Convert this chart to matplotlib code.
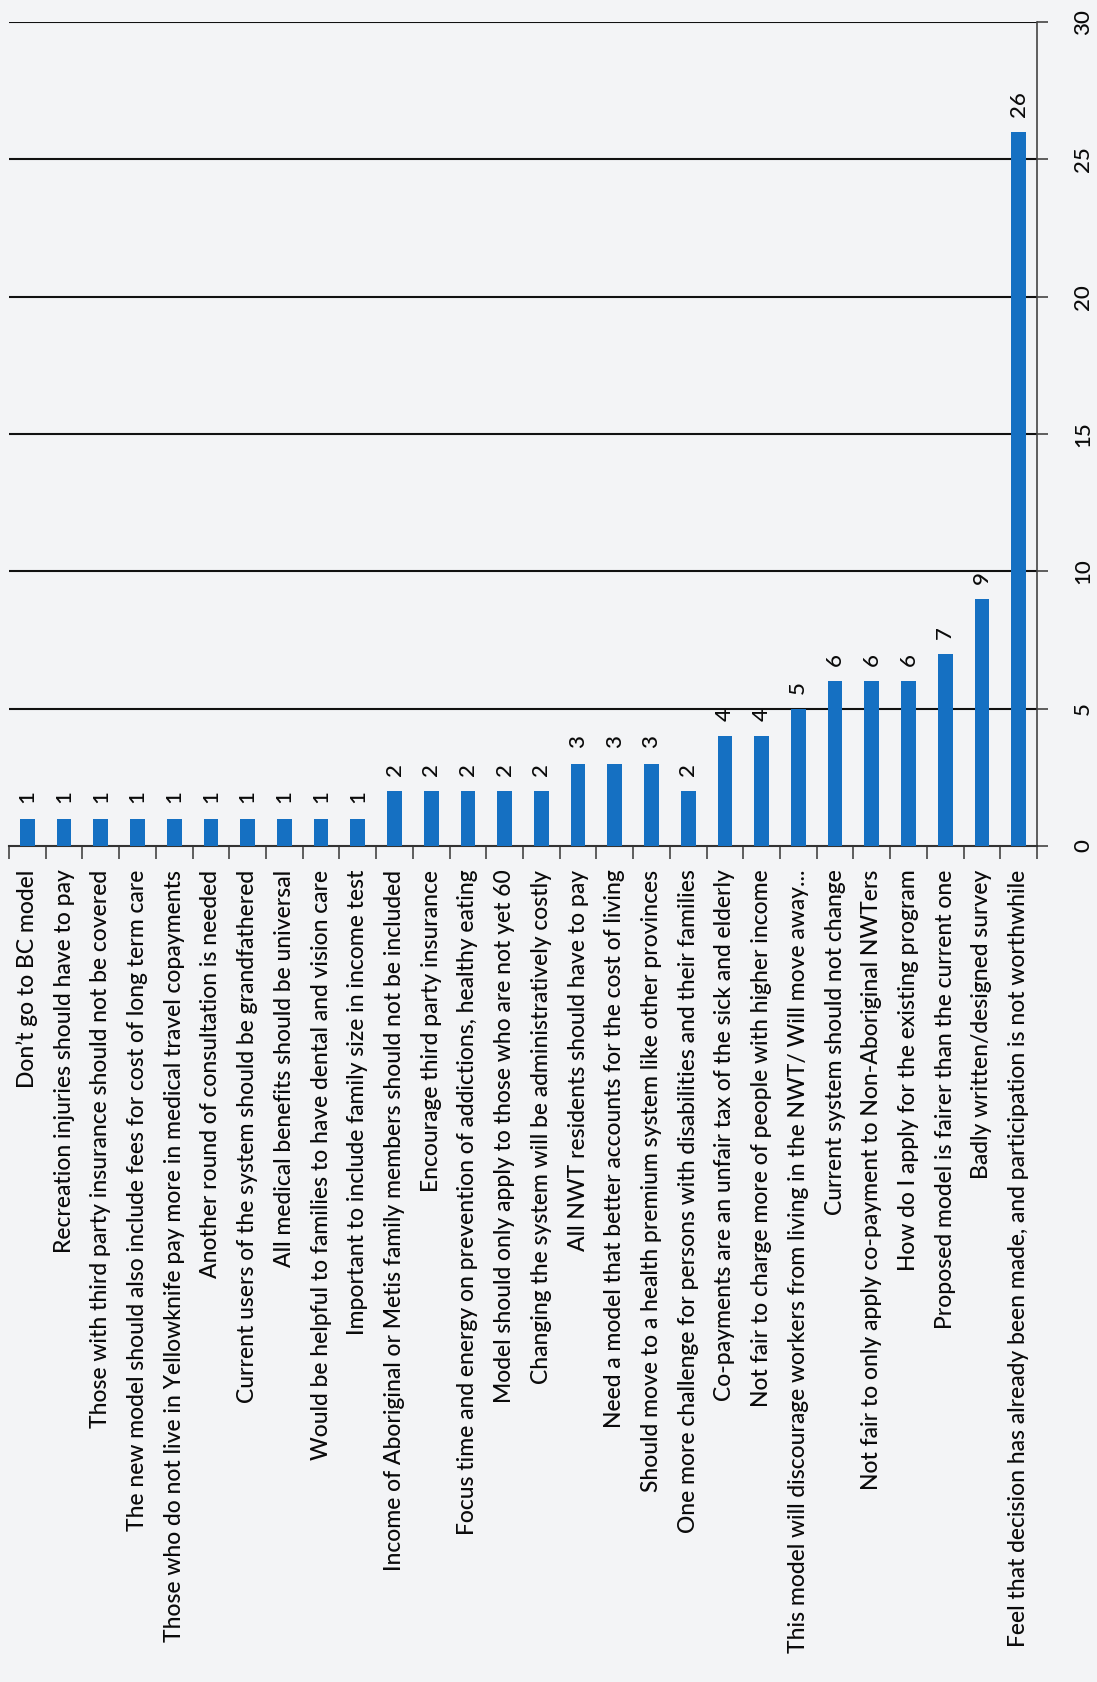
import matplotlib.pyplot as plt
import numpy as np

plt.rcParams['font.family'] = ['Lato', 'DejaVu Sans']

labels = [
    "Don\u2019t go to BC model",
    "Recreation injuries should have to pay",
    "Those with third party insurance should not be covered",
    "The new model should also include fees for cost of long term care",
    "Those who do not live in Yellowknife pay more in medical travel copayments",
    "Another round of consultation is needed",
    "Current users of the system should be grandfathered",
    "All medical benefits should be universal",
    "Would be helpful to families to have dental and vision care",
    "Important to include family size in income test",
    "Income of Aboriginal or Metis family members should not be included",
    "Encourage third party insurance",
    "Focus time and energy on prevention of addictions, healthy eating",
    "Model should only apply to those who are not yet 60",
    "Changing the system will be administratively costly",
    "All NWT residents should have to pay",
    "Need a model that better accounts for the cost of living",
    "Should move to a health premium system like other provinces",
    "One more challenge for persons with disabilities and their families",
    "Co-payments are an unfair tax of the sick and elderly",
    "Not fair to charge more of people with higher income",
    "This model will discourage workers from living in the NWT/ Will move away...",
    "Current system should not change",
    "Not fair to only apply co-payment to Non-Aboriginal NWTers",
    "How do I apply for the existing program",
    "Proposed model is fairer than the current one",
    "Badly written/designed survey",
    "Feel that decision has already been made, and participation is not worthwhile",
]
counts = [1, 1, 1, 1, 1, 1, 1, 1, 1, 1,
          2, 2, 2, 2, 2,
          3, 3, 3, 2,
          4, 4, 5, 6, 6, 6, 7, 9, 26]
value_ticks = [0, 5, 10, 15, 20, 25, 30]

bg = '#f3f4f6'
ink = '#0a0a0a'
fig = plt.figure(figsize=(10.97, 16.82), dpi=100, facecolor=bg)
ax = fig.add_axes([9/1097, 836/1682, 1028/1097, 824/1682], facecolor=bg)

x = np.arange(len(labels))
ax.bar(x, counts, width=0.4, color='#1570c2', zorder=3)

for xi, v in zip(x, counts):
    ax.text(xi, v + 0.55, str(v), rotation=90, ha='center', va='bottom',
            fontsize=16, color=ink, fontweight='medium')

ax.set_xlim(-0.5, len(labels) - 0.5)
ax.set_ylim(0, 30)

# value axis on the right
ax.yaxis.tick_right()
ax.set_yticks(value_ticks)
ax.set_yticklabels([str(t) for t in value_ticks], rotation=90, va='center',
                   fontsize=16, color=ink, fontweight='medium')
ax.tick_params(axis='y', length=8, width=1.2, color='#444444', pad=18)
for t in value_ticks[1:]:
    ax.axhline(t, color='#111111', linewidth=1.5, zorder=1)

# category labels with boundary ticks
ax.set_xticks(x)
ax.set_xticklabels(labels, rotation=90, ha='center', va='top', fontsize=16.5,
                   color=ink, fontweight='medium')
ax.tick_params(axis='x', which='major', length=0, pad=17)
ax.set_xticks(np.arange(-0.5, len(labels), 1), minor=True)
ax.tick_params(axis='x', which='minor', length=9, width=1.2, color='#444444')

for side in ['top', 'left']:
    ax.spines[side].set_visible(False)
ax.spines['right'].set_color('#444444')
ax.spines['right'].set_linewidth(1.2)
ax.spines['bottom'].set_color('#333333')
ax.spines['bottom'].set_linewidth(1.5)

fig.savefig('out.png', dpi=100, facecolor=bg)
